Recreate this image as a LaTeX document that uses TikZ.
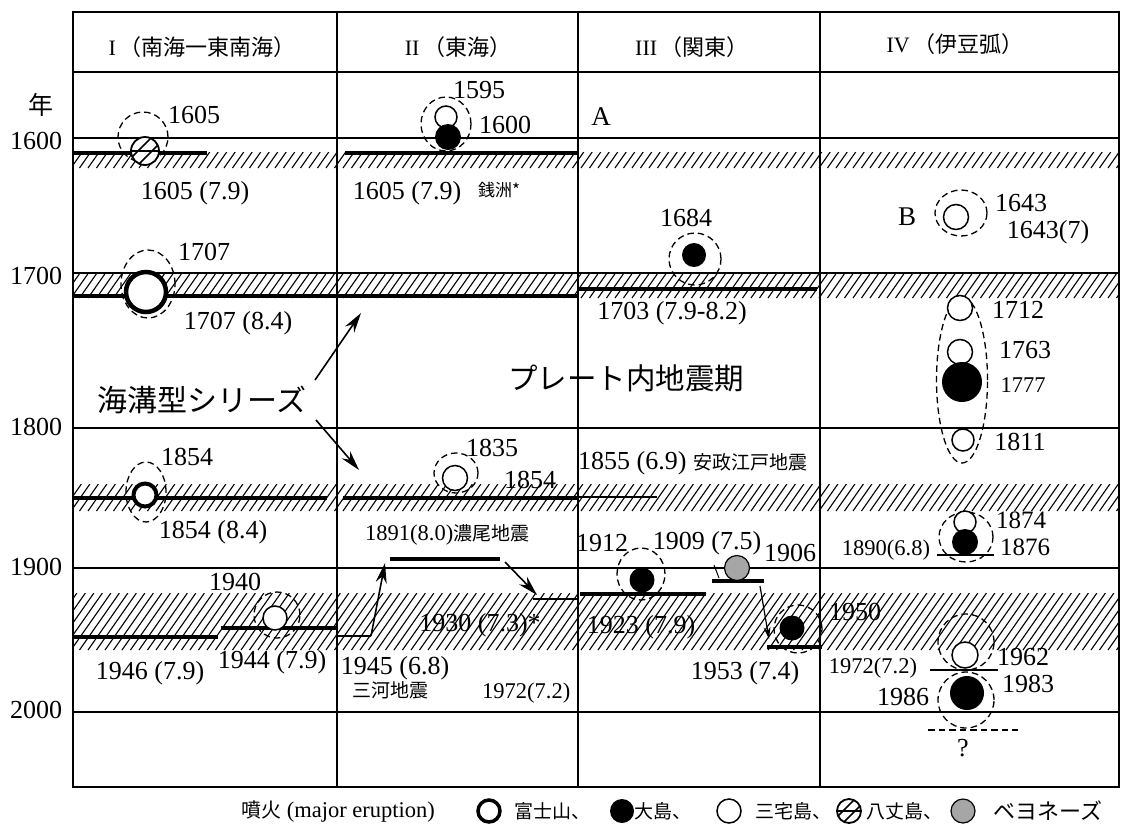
\documentclass[tikz,border=0pt]{standalone}
\usepackage{fontspec}
\setmainfont{Liberation Serif}
\newfontfamily\jp{Noto Sans CJK JP}
\usetikzlibrary{arrows.meta}
\newcommand\hatchband[4]{%
  \begin{scope}
    \clip (#1,#2) rectangle (#3,#4);
    \pgfmathsetmacro\hh{#4-#2}
    \pgfmathtruncatemacro\nn{(#3-#1+80)/8.5}
    \foreach \i in {0,...,\nn}{%
      \pgfmathsetmacro\xx{#1-70+8.5*\i}
      \draw[line width=1.1pt] (\xx,#4) -- ++(0.7*\hh,-\hh);
    }
  \end{scope}}
\newcommand\hachijo[3]{%
  \begin{scope}
    \fill[white] (#1,#2) circle[radius=#3pt];
    \clip (#1,#2) circle[radius=#3pt];
    \draw[line width=1.6pt] (#1-#3,#2) -- (#1+#3,#2);
    \draw[line width=1.6pt] (#1-#3,#2+0.5*#3) -- (#1+0.5*#3,#2-#3);
    \draw[line width=1.6pt] (#1-0.5*#3,#2+#3) -- (#1+#3,#2-0.5*#3);
  \end{scope}
  \draw[line width=1.8pt] (#1,#2) circle[radius=#3pt];}
\begin{document}
\begin{tikzpicture}[x=1pt,y=-1pt,
  gridline/.style={line width=1.1pt},
  quake/.style={line width=3.8pt},
  thinq/.style={line width=1.5pt},
  dsh/.style={line width=1.3pt, dash pattern=on 6.5pt off 4pt},
  fuji/.style={line width=4.5pt, fill=white},
  miyake/.style={line width=1.5pt, fill=white},
  oshima/.style={fill=black},
  bayo/.style={line width=1.2pt, fill=black!35},
  lab/.style={inner sep=0pt, font=\fontsize{26}{26}\selectfont},
  slab/.style={inner sep=0pt, font=\fontsize{22.5}{22.5}\selectfont},
  jlab/.style={inner sep=0pt, font=\jp\fontsize{19}{19}\selectfont},
  head/.style={inner sep=0pt, font=\fontsize{22}{22}\selectfont},
  big/.style={inner sep=0pt, font=\jp\fontsize{30}{30}\selectfont},
  arr/.style={line width=1.6pt, -{Stealth[length=20pt,width=11pt]}},
  ]
\useasboundingbox[fill=white] (0,0) rectangle (1122,823);

% hatched bands
\hatchband{73}{152}{1119}{168}
\hatchband{73}{274}{1119}{298}
\hatchband{73}{484}{1119}{511}
\hatchband{73}{593}{1119}{650}

% frame and grid
\draw[gridline] (73,12) rectangle (1119,787);
\draw[gridline] (73,72) -- (1119,72);
\foreach \xv in {337,578,820} \draw[gridline] (\xv,12) -- (\xv,787);
\foreach \yv in {138,273,428,568,712} \draw[gridline] (73,\yv) -- (1119,\yv);

% header
\node[head] (h1) at (202,47) {I\,{\jp （南海一東南海）}};
\node[head] (h2) at (458,47) {II\,{\jp （東海）}};
\node[head] (h3) at (692,47) {III\,{\jp （関東）}};
\node[head] (h4) at (955,44) {IV\,{\jp （伊豆弧）}};

% year axis
\node[inner sep=0pt, font=\jp\fontsize{25}{25}\selectfont] (nen) at (41,105) {年};
\node[lab] (y16) at (36,141) {1600};
\node[lab] (y17) at (36,276) {1700};
\node[lab] (y18) at (36,427) {1800};
\node[lab] (y19) at (36,567) {1900};
\node[lab] (y20) at (36,710) {2000};

% earthquake lines
\draw[quake] (73,153) -- (207,153);
\draw[quake] (345,153) -- (578,153);
\draw[quake] (73,296) -- (578,296);
\draw[quake] (578,289) -- (817,289);
\draw[quake] (73,498) -- (327,498);
\draw[quake] (343,498) -- (578,498);
\draw[thinq] (578,497) -- (657,497);
\draw[quake] (73,637) -- (218,637);
\draw[quake] (221,628) -- (337,628);
\draw[thinq] (337,636) -- (371,636);
\draw[quake] (390,559) -- (500,559);
\draw[thinq] (533,599) -- (578,599);
\draw[quake] (580,594) -- (706,594);
\draw[quake] (712,581) -- (764,581);
\draw[quake] (767,647) -- (822,647);
\draw[thinq] (937,555) -- (994,555);
\draw[thinq] (930,670) -- (998,670);
\draw[dsh, line width=1.5pt] (928,730) -- (1018,730);

% column I eruptions
\draw[dsh] (143,137) circle[radius=25pt];
\hachijo{145}{151}{14}
\draw[dsh] (148,284) ellipse[x radius=27pt, y radius=34pt];
\draw[fuji] (146,292) circle[radius=20pt];
\draw[dsh] (146,492) ellipse[x radius=20pt, y radius=30pt];
\draw[fuji, line width=4pt] (145,495) circle[radius=11.5pt];
\draw[dsh] (277,615) circle[radius=23pt];
\draw[miyake] (275,618) circle[radius=12pt];

% column II eruptions
\draw[dsh] (446,124) ellipse[x radius=25pt, y radius=27pt];
\draw[miyake] (446,117) circle[radius=11pt];
\fill[oshima] (448,137) circle[radius=13pt];
\draw[dsh] (456,473) ellipse[x radius=22pt, y radius=20pt];
\draw[miyake] (455,478) circle[radius=12.5pt];

% column III eruptions
\draw[dsh] (695,259) circle[radius=26pt];
\fill[oshima] (694,255) circle[radius=12pt];
\draw[dsh] (641,574) ellipse[x radius=24pt, y radius=26pt];
\fill[oshima] (642,580) circle[radius=12.5pt];
\draw[bayo] (737,568) circle[radius=12.5pt];
\draw[dsh] (798,629) circle[radius=24pt];
\fill[oshima] (792,628) circle[radius=12.5pt];

% column IV eruptions
\draw[dsh] (961,213) ellipse[x radius=26pt, y radius=23pt];
\draw[miyake] (956,217) circle[radius=12.5pt];
\draw[dsh] (962,380) ellipse[x radius=25.5pt, y radius=83pt];
\draw[miyake] (960,308) circle[radius=12.5pt];
\draw[miyake] (960,352) circle[radius=12.5pt];
\fill[oshima] (962,382) circle[radius=20pt];
\draw[miyake] (963,440) circle[radius=11pt];
\draw[dsh] (966,537) ellipse[x radius=27pt, y radius=25pt];
\draw[miyake] (965,522) circle[radius=11pt];
\fill[oshima] (965,542) circle[radius=13pt];
\draw[dsh] (966,642) circle[radius=28pt];
\draw[miyake] (965,655) circle[radius=13pt];
\draw[dsh] (966,700) circle[radius=28pt];
\fill[oshima] (967,693) circle[radius=17pt];

% arrows
\coordinate (a1s) at (315,380); \coordinate (a1e) at (361,313);
\coordinate (a2s) at (316,420); \coordinate (a2e) at (359,470);
\coordinate (a3s) at (371,636); \coordinate (a3e) at (385,563);
\coordinate (a4s) at (505,562); \coordinate (a4e) at (537,595);
\coordinate (a5s) at (760,586); \coordinate (a5e) at (769,639);
\coordinate (t1s) at (714,565); \coordinate (t1e) at (719,578);
\draw[arr] (a1s) -- (a1e);
\draw[arr] (a2s) -- (a2e);
\draw[arr] (a3s) -- (a3e);
\draw[arr] (a4s) -- (a4e);
\draw[arr, -{Stealth[length=12pt,width=7pt]}, line width=1.2pt] (a5s) -- (a5e);
\draw[line width=1pt] (t1s) -- (t1e);

% column I labels
\node[lab] (l1605a) at (194,115) {1605};
\node[lab] (l1605b) at (195,193) {1605 (7.9)};
\node[lab] (l1707a) at (204,252) {1707};
\node[lab] (l1707b) at (238,323) {1707 (8.4)};
\node[big] (kaiko) at (202,400) {海溝型シリーズ};
\node[lab] (l1854a) at (187,457) {1854};
\node[lab] (l1854b) at (213,532) {1854 (8.4)};
\node[lab] (l1940) at (235,582) {1940};
\node[lab] (l1946) at (150,673) {1946 (7.9)};
\node[lab] (l1944) at (272,662) {1944 (7.9)};

% column II labels
\node[lab] (l1595) at (479,90) {1595};
\node[lab] (l1600) at (505,125) {1600};
\node[lab] (l1605c) at (407,193) {1605 (7.9)};
\node[jlab, anchor=west, font=\jp\fontsize{17}{17}\selectfont] (zenisu) at (478,190) {銭洲*};
\node[lab] (l1835) at (492,448) {1835};
\node[lab] (l1854c) at (530,480) {1854};
\node[slab, anchor=west] (l1891) at (365,535) {1891(8.0){\jp\fontsize{19}{19}\selectfont 濃尾地震}};
\node[lab] (l1930) at (480,625) {1930 (7.3)*};
\node[lab] (l1945) at (395,668) {1945 (6.8)};
\node[jlab] (mikawa) at (390,690) {三河地震};
\node[slab, anchor=west] (l1972a) at (482,693) {1972(7.2)};

% column III labels
\node[inner sep=0pt, font=\fontsize{27}{27}\selectfont] (labA) at (601,117) {A};
\node[lab] (l1684) at (686,218) {1684};
\node[lab] (l1703) at (672,313) {1703 (7.9-8.2)};
\node[inner sep=0pt, font=\jp\fontsize{29.5}{29.5}\selectfont] (plate) at (626,378) {プレート内地震期};
\node[lab, anchor=west] (l1855) at (578,463) {1855 (6.9)\ {\jp\fontsize{19}{19}\selectfont 安政江戸地震}};
\node[lab] (l1912) at (602,543) {1912};
\node[lab] (l1909) at (707,543) {1909 (7.5)};
\node[lab] (l1906) at (790,553) {1906};
\node[lab] (l1923) at (641,627) {1923 (7.9)};
\node[lab] (l1953) at (745,673) {1953 (7.4)};
\node[lab] (l1950) at (855,612) {1950};

% column IV labels
\node[inner sep=0pt, font=\fontsize{27}{27}\selectfont] (labB) at (907,217) {B};
\node[lab] (l1643a) at (1021,203) {1643};
\node[lab] (l1643b) at (1048,232) {1643(7)};
\node[lab] (l1712) at (1018,310) {1712};
\node[lab] (l1763) at (1025,350) {1763};
\node[slab] (l1777) at (1023,385) {1777};
\node[lab] (l1811) at (1020,442) {1811};
\node[lab, font=\fontsize{25}{25}\selectfont] (l1874) at (1021,520) {1874};
\node[lab, font=\fontsize{25}{25}\selectfont] (l1876) at (1025,547) {1876};
\node[slab] (l1890) at (886,550) {1890(6.8)};
\node[slab] (l1972b) at (873,668) {1972(7.2)};
\node[lab] (l1962) at (1023,657) {1962};
\node[lab] (l1983) at (1028,684) {1983};
\node[lab] (l1986) at (903,697) {1986};
\node[lab] (qmark) at (963,748) {?};

% legend
\node[inner sep=0pt, anchor=west, font=\fontsize{22.5}{22.5}\selectfont] (leg0) at (241,811) {{\jp\fontsize{20}{20}\selectfont 噴火} (major eruption)};
\draw[fuji, line width=3.5pt] (489,811) circle[radius=11pt];
\node[jlab, anchor=west] (leg1) at (514,811) {富士山、};
\fill[oshima] (622,811) circle[radius=12pt];
\node[jlab, anchor=west] (leg2) at (634,811) {大島、};
\draw[miyake] (729,811) circle[radius=12pt];
\node[jlab, anchor=west] (leg3) at (755,811) {三宅島、};
\hachijo{849}{811}{12}
\node[jlab, anchor=west] (leg4) at (866,811) {八丈島、};
\draw[bayo] (963,811) circle[radius=12pt];
\node[jlab, anchor=west, font=\jp\fontsize{22}{22}\selectfont] (leg5) at (993,811) {ベヨネーズ};
\end{tikzpicture}
\end{document}
